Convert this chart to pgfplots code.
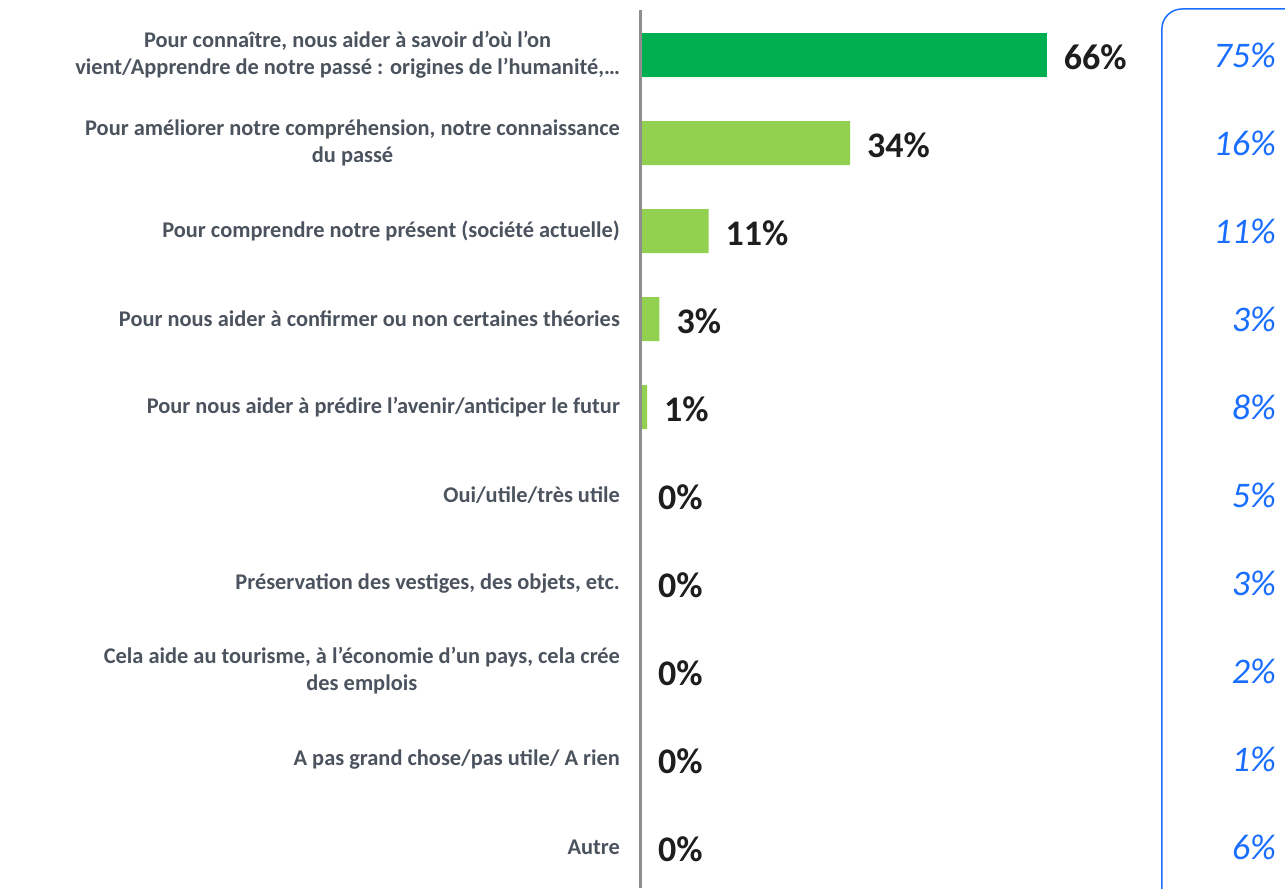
\documentclass[border=0pt]{standalone}
\usepackage{fontspec}
\setmainfont{Carlito}
\usepackage{pgfplots}
\pgfplotsset{compat=1.18}
\definecolor{dkgreen}{HTML}{00B050}
\definecolor{ltgreen}{HTML}{92D050}
\definecolor{lblgray}{HTML}{4B535E}
\definecolor{axgray}{HTML}{8E8E8E}
\definecolor{valblack}{HTML}{1E1E1E}
\definecolor{blu}{HTML}{1A6EFF}
\begin{document}
\begin{tikzpicture}
\begin{axis}[
  scale only axis, width=322pt, height=444pt,
  xmin=0, xmax=104.72, ymin=-0.625, ymax=9.466, y dir=reverse,
  axis line style={draw=none},
  /pgf/number format/assume math mode=true,
  xtick=\empty,
  ytick={0,...,9},
  yticklabels={
    {Pour connaître, nous aider à savoir d’où l’on\\vient/Apprendre de notre passé : origines de l’humanité,…},
    {Pour améliorer notre compréhension, notre connaissance\\du passé},
    {Pour comprendre notre présent (société actuelle)},
    {Pour nous aider à confirmer ou non certaines théories},
    {Pour nous aider à prédire l’avenir/anticiper le futur},
    {Oui/utile/très utile},
    {Préservation des vestiges, des objets, etc.},
    {Cela aide au tourisme, à l’économie d’un pays, cela crée\\des emplois},
    {A pas grand chose/pas utile/ A rien},
    {Autre}},
  major tick length=0pt,
  yticklabel style={font=\fontsize{11.2}{13.5}\selectfont\bfseries, text=lblgray, align=center, xshift=-7pt},
  clip=false,
]
\addplot[xbar, bar width=22pt, bar shift=0pt, draw=none, fill=ltgreen,
  nodes near coords={\pgfmathprintnumber{\pgfplotspointmeta}\%},
  every node near coord/.append style={font=\fontsize{18}{21}\selectfont\bfseries, text=valblack, anchor=west, xshift=5pt, yshift=-1pt}]
  coordinates {(66,0) (34,1) (11,2) (3,3) (1,4) (0,5) (0,6) (0,7) (0,8) (0,9)};
\addplot[xbar, bar width=22pt, bar shift=0pt, draw=none, fill=dkgreen]
  coordinates {(66,0)};
\addplot[draw=none, mark=none, point meta=explicit,
  nodes near coords={\pgfmathprintnumber{\pgfplotspointmeta}\%},
  every node near coord/.append style={font=\fontsize{18}{21}\selectfont\itshape, text=blu, anchor=east}]
  coordinates {(104.4,0) [75] (104.4,1) [16] (104.4,2) [11] (104.4,3) [3] (104.4,4) [8]
               (104.4,5) [5] (104.4,6) [3] (104.4,7) [2] (104.4,8) [1] (104.4,9) [6]};
\draw[axgray, line width=1.5pt] (axis cs:0,-0.511) -- (axis cs:0,9.466);
\draw[blu, line width=0.75pt, rounded corners=10pt] (axis cs:84.7,9.7) -- (axis cs:84.7,-0.523) -- (axis cs:108,-0.523);
\coordinate (bl) at (axis cs:-104.23,9.466);
\coordinate (tr) at (axis cs:104.72,-0.625);
\end{axis}
\pgfresetboundingbox
\useasboundingbox (bl) rectangle (tr);
\end{tikzpicture}
\end{document}
